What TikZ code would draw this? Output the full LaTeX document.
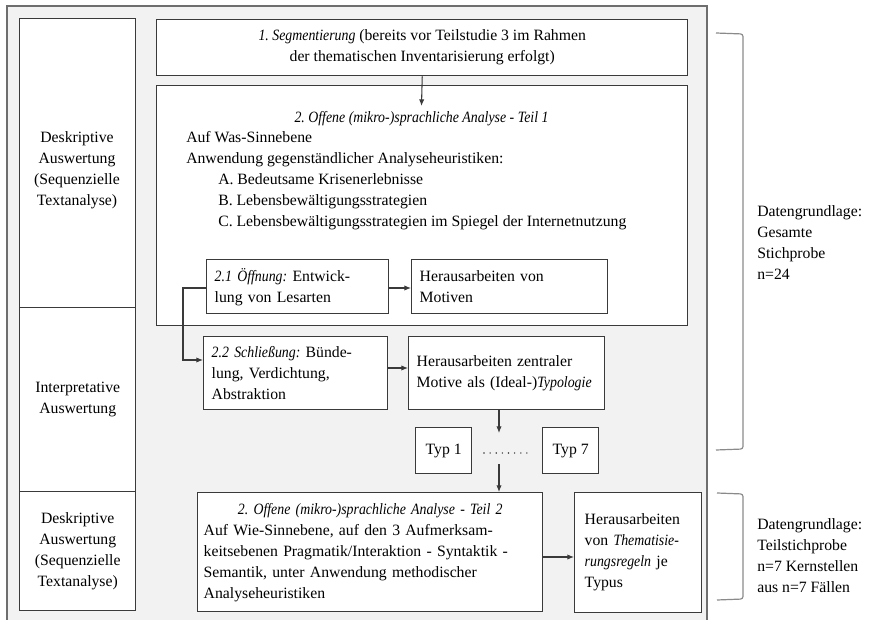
\documentclass[tikz,border=0pt]{standalone}
\usepackage{fontspec}
\setmainfont{Liberation Serif}[ItalicFeatures={FakeStretch=0.88}]
\usetikzlibrary{arrows.meta,calc}
\newlength\pxu
\setlength\pxu{0.75pt}
\definecolor{panel}{HTML}{F2F2F2}
\definecolor{edge}{HTML}{3A3A3A}
\definecolor{frame}{HTML}{6E6E6E}
\definecolor{bracec}{HTML}{8A8A8A}
\frenchspacing

\begin{document}
\begin{tikzpicture}[x=\pxu, y=-\pxu,
  every node/.style={font=\fontsize{11.8}{15.75}\selectfont\frenchspacing, text=black},
  box/.style={draw=edge, fill=white, line width=1.1pt, inner sep=0pt, anchor=north west},
  lbox/.style={box, align=left, inner xsep=8\pxu},
  plain/.style={inner sep=0pt},
  arr/.style={draw=edge, line width=0.8pt, -{Latex[length=5pt,width=4pt]}},
  bracket/.style={draw=bracec, line width=0.9pt, rounded corners=2.5\pxu}
]
\useasboundingbox (0,0) rectangle (875,620);

% grey panel holding the whole scheme
\draw[fill=panel, draw=frame, line width=1.3pt] (7,6) rectangle (707,624);

% left column: kind of evaluation
\node[box, minimum width=116\pxu, minimum height=289\pxu] (lab1) at (19,18) {};
\node[plain, align=center] (lab1t) at (77,170) {Deskriptive\\Auswertung\\(Sequenzielle\\Textanalyse)};
\node[box, minimum width=116\pxu, minimum height=184\pxu, align=center] (lab2) at (19,307) {Interpretative\\Auswertung};
\node[box, minimum width=116\pxu, minimum height=119\pxu, align=center] (lab3) at (19,491) {Deskriptive\\Auswertung\\(Sequenzielle\\Textanalyse)};

% step 1
\node[box, minimum width=531\pxu, minimum height=56\pxu, align=center] (b1) at (156,19)
  {\textit{1. Segmentierung} (bereits vor Teilstudie 3 im Rahmen\\der thematischen Inventarisierung erfolgt)};

% step 2, part 1
\node[box, minimum width=531\pxu, minimum height=240\pxu] (b2) at (156,85) {};
\node[plain, anchor=base] (b2title) at (421.5,123) {\textit{2. Offene (mikro-)sprachliche Analyse - Teil 1}};
\node[plain, anchor=base west] (w1) at (186,143) {Auf Was-Sinnebene};
\node[plain, anchor=base west] (w2) at (186,164) {Anwendung gegenständlicher Analyseheuristiken:};
\node[plain, anchor=base west] (wa) at (218,185) {A. Bedeutsame Krisenerlebnisse};
\node[plain, anchor=base west] (wb) at (218,206) {B. Lebensbewältigungsstrategien};
\node[plain, anchor=base west] (wc) at (218,227) {C. Lebensbewältigungsstrategien im Spiegel der Internetnutzung};

\node[lbox, minimum width=182\pxu, minimum height=54\pxu, text width=166\pxu] (b21) at (206,259)
  {\mbox{\textit{2.1 Öffnung:} Entwick-}\\lung von Lesarten};
\node[lbox, minimum width=196\pxu, minimum height=54\pxu, text width=180\pxu] (bmot) at (411,259)
  {Herausarbeiten von\\Motiven};

\node[lbox, minimum width=184\pxu, minimum height=73\pxu, text width=168\pxu] (b22) at (203,336)
  {\mbox{\textit{2.2 Schließung:} Bünde-}\\lung, Verdichtung,\\Abstraktion};
\node[lbox, minimum width=196\pxu, minimum height=73\pxu, text width=180\pxu] (bzen) at (408,336)
  {\mbox{Herausarbeiten zentraler}\\\mbox{Motive als (Ideal-)\textit{Typologie}}};

% types
\node[box, minimum width=56\pxu, minimum height=46\pxu] (typ1) at (415,427) {Typ 1};
\node[box, minimum width=56\pxu, minimum height=46\pxu] (typ7) at (542,427) {Typ 7};
\draw[edge, line width=1.2pt, line cap=round, dash pattern=on 0pt off 4.6pt] (484,453) -- (532,453);

% step 2, part 2
\node[lbox, inner xsep=6\pxu, minimum width=345\pxu, minimum height=119\pxu, text width=333\pxu] (b3) at (197,492)
  {\makebox[\hsize][c]{\textit{2. Offene (mikro-)sprachliche Analyse - Teil 2}}\\
   \mbox{Auf Wie-Sinnebene, auf den 3 Aufmerksam-}\\
   \mbox{keitsebenen Pragmatik/Interaktion - Syntaktik -}\\
   \mbox{Semantik, unter Anwendung methodischer}\\
   Analyseheuristiken};
\node[lbox, inner xsep=10\pxu, minimum width=127\pxu, minimum height=120\pxu, text width=107\pxu] (btyp) at (574,492)
  {Herausarbeiten\\\mbox{von \textit{Thematisie-}}\\\mbox{\textit{rungsregeln} je}\\Typus};

% connectors
\coordinate (b2in) at (421.5,106);
\draw[arr] (b1.south) -- (b2in);
\coordinate (r1) at (0,288);
\draw[arr] (b21.east |- r1) -- (bmot.west |- r1);
\coordinate (elbow) at (183,360);
\draw[arr] (b21.west |- r1) -| (elbow) -- (elbow -| b22.west);
\coordinate (r2) at (0,368);
\draw[arr] (b22.east |- r2) -- (bzen.west |- r2);
\coordinate (tA) at (499,433);
\draw[arr] (tA |- bzen.south) -- (tA);
\coordinate (tB) at (499,464);
\draw[arr] (tB) -- (tB |- b3.north);
\coordinate (r3) at (0,557);
\draw[arr] (b3.east |- r3) -- (btyp.west |- r3);

% data basis brackets
\draw[bracket] (716,33) -- (743,34) -- (743,449) -- (716,450);
\node[plain, anchor=west, align=left] (dg1) at (757,243) {Datengrundlage:\\Gesamte\\Stichprobe\\n=24};
\draw[bracket] (717,493) -- (743,494) -- (743,599) -- (717,600);
\node[plain, anchor=west, align=left] (dg2) at (757,556) {Datengrundlage:\\Teilstichprobe\\n=7 Kernstellen\\aus n=7 Fällen};
\end{tikzpicture}
\end{document}
